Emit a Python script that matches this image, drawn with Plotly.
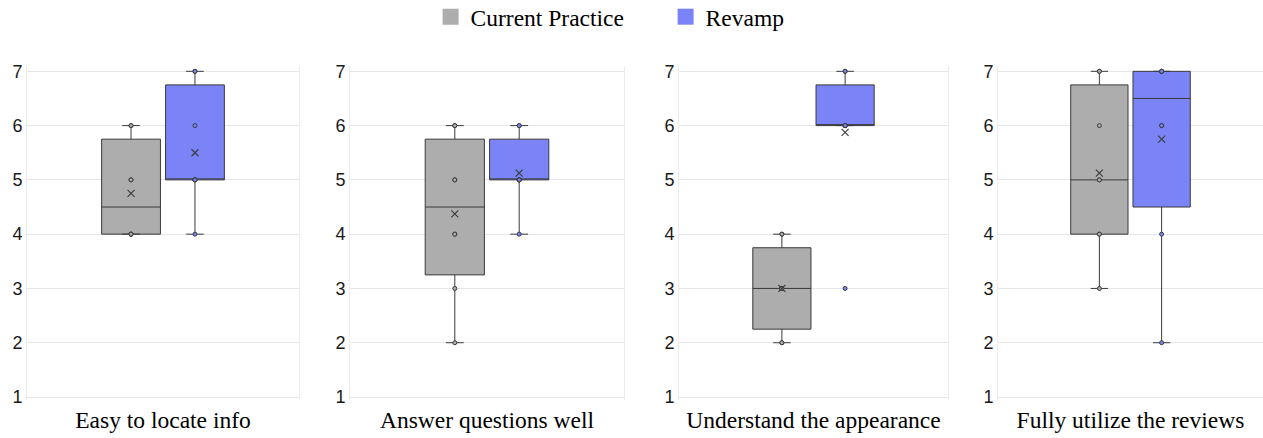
import numpy as np
import plotly.graph_objects as go

# ---- data (Likert 1-7 responses) ----
categories = ["Easy to locate info", "Answer questions well",
              "Understand the appearance", "Fully utilize the reviews"]
series_names = ["Current Practice", "Revamp"]
current_practice = [
    [4, 4, 4, 4, 5, 5, 6, 6],
    [2, 3, 4, 4, 5, 5, 6, 6],
    [2, 2, 3, 3, 3, 3, 4, 4],
    [3, 4, 4, 5, 5, 6, 7, 7],
]
revamp = [
    [4, 5, 5, 5, 5, 6, 7, 7],
    [4, 5, 5, 5, 5, 5, 6, 6],
    [3, 6, 6, 6, 6, 6, 7, 7],
    [2, 4, 6, 6, 7, 7, 7, 7],
]
y_ticks = [1, 2, 3, 4, 5, 6, 7]

# ---- styles ----
FILL = {"Current Practice": "#adadad", "Revamp": "#7b84f6"}
EDGE = "#3a3a3a"
SERIF = "Liberation Serif"
SANS = "Liberation Sans"
W = 1263
H = 438


def stats(vals):
    a = np.asarray(vals, dtype=float)
    q1, med, q3 = np.percentile(a, [25, 50, 75], method="weibull")
    iqr = q3 - q1
    lo = a[a >= q1 - 1.5 * iqr].min()
    hi = a[a <= q3 + 1.5 * iqr].max()
    return q1, med, q3, lo, hi, a.mean()


fig = go.Figure()

# panel domains in pixels (left, right)
panels_px = [(27, 299), (350, 624), (679, 948), (998, 1263)]

for i, cat in enumerate(categories):
    xa = "x" if i == 0 else f"x{i+1}"
    ya = "y" if i == 0 else f"y{i+1}"
    for name, data in zip(series_names, [current_practice[i], revamp[i]]):
        q1, med, q3, lo, hi, mean = stats(data)
        og = name
        # box body (Excel-style exclusive quartiles)
        fig.add_trace(go.Box(
            x=[cat], q1=[q1], median=[med], q3=[q3],
            lowerfence=[lo], upperfence=[hi],
            name=name, offsetgroup=og, boxpoints=False,
            fillcolor=FILL[name], line=dict(color=EDGE, width=1),
            whiskerwidth=0.3, showlegend=False,
            xaxis=xa, yaxis=ya, hoverinfo="skip",
        ))
        # inner points
        fig.add_trace(go.Box(
            x=[cat] * len(data), y=data, name=name, offsetgroup=og,
            boxpoints="all", jitter=0, pointpos=0,
            fillcolor="rgba(0,0,0,0)", line=dict(color="rgba(0,0,0,0)", width=0),
            marker=dict(size=4, color=FILL[name], line=dict(color=EDGE, width=1)),
            showlegend=False, xaxis=xa, yaxis=ya, hoverinfo="skip",
        ))
        # mean marker
        fig.add_trace(go.Box(
            x=[cat], y=[mean], name=name, offsetgroup=og,
            boxpoints="all", jitter=0, pointpos=0,
            fillcolor="rgba(0,0,0,0)", line=dict(color="rgba(0,0,0,0)", width=0),
            marker=dict(size=7, symbol="x-thin", color=EDGE,
                        line=dict(color=EDGE, width=1.1)),
            showlegend=False, xaxis=xa, yaxis=ya, hoverinfo="skip",
        ))

    l, r = panels_px[i]
    fig.update_layout(**{
        ("xaxis" if i == 0 else f"xaxis{i+1}"): dict(
            domain=[l / W, min(r / W, 1.0)], anchor=ya, type="category",
            range=[-0.5, 0.5], showgrid=False, zeroline=False, showline=False,
            ticks="", ticklabelstandoff=3,
            tickfont=dict(family=SERIF, size=23.5, color="#000"),
        ),
        ("yaxis" if i == 0 else f"yaxis{i+1}"): dict(
            anchor=xa, range=[0.945, 7.098], tickvals=y_ticks,
            showgrid=True, gridcolor="#e6e6e6", gridwidth=1,
            zeroline=False, showline=True, linecolor="#ececec", linewidth=1,
            mirror=True, ticks="",
            tickfont=dict(family=SANS, size=18, color="#1a1a1a"),
        ),
    })

# legend entries as filled squares
for name in series_names:
    fig.add_trace(go.Scatter(
        x=[None], y=[None], mode="markers", name=name,
        marker=dict(symbol="square", size=18, color=FILL[name]),
        showlegend=True, xaxis="x", yaxis="y",
    ))

fig.update_layout(
    width=W, height=H,
    margin=dict(l=0, r=0, t=66, b=38, autoexpand=False),
    paper_bgcolor="white", plot_bgcolor="white",
    boxmode="group", boxgap=0.53, boxgroupgap=0.08,
    legend=dict(orientation="h", x=0.527, xanchor="center", y=1.147, yanchor="middle",
                font=dict(family=SERIF, size=23.5, color="#000"),
                entrywidth=190, entrywidthmode="pixels",
                itemsizing="trace", bgcolor="rgba(0,0,0,0)"),
)

fig.write_html("out.html", config={"displayModeBar": False},
               post_script="document.body.style.margin='0px';document.body.style.padding='0px';")
